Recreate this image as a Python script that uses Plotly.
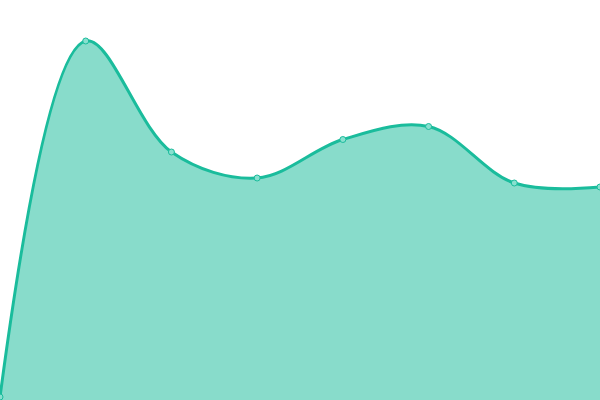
import plotly.graph_objects as go

# ==========================================
# DATA
# ==========================================
x_idx = [0, 1, 2, 3, 4, 5, 6, 7]
values = [3, 359, 248, 222, 260.5, 273.5, 217, 213]

LINE = '#1abc9c'
FILL = 'rgba(26,188,156,0.52)'

fig = go.Figure()

fig.add_trace(go.Scatter(
    x=x_idx,
    y=values,
    mode='lines+markers',
    fill='tozeroy',
    fillcolor=FILL,
    line=dict(color=LINE, width=3, shape='spline', smoothing=1.0),
    marker=dict(size=6, color='#88e0cf', line=dict(width=1, color=LINE)),
    showlegend=False,
    hoverinfo='skip',
))

fig.update_layout(
    width=600,
    height=400,
    margin=dict(l=0, r=0, t=0, b=0),
    plot_bgcolor='white',
    paper_bgcolor='white',
    xaxis=dict(range=[0, 7], visible=False),
    yaxis=dict(range=[0, 400], visible=False),
)

# drop the page's default body margin so the chart sits at 0,0
fig.write_html("out.html", config={'displayModeBar': False},
               post_script="document.body.style.margin='0';")
